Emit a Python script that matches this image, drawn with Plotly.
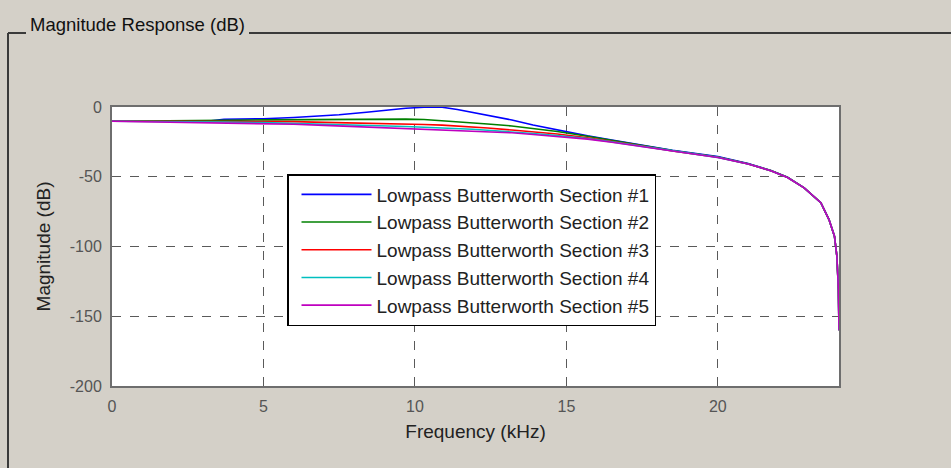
import plotly.graph_objects as go

# ---- data ----
freq_khz = [0, 3.2, 3.7, 5, 6, 7, 7.5, 8.4, 9.1, 9.7, 10.3, 10.9, 11.4, 11.9, 12.4,
            13.2, 13.9, 14.7, 15.7, 16.5, 17.3, 18.5, 20, 21, 21.75, 22.3, 22.85,
            23.4, 23.67, 23.85, 23.93, 23.98, 24]

section1_db = [-10.2, -10.0, -8.8, -8.4, -7.5, -6.2, -5.6, -3.8, -2.1, -0.9, -0.2, -0.2,
               -1.8, -3.8, -5.7, -9.3, -12.9, -16.4, -20.7, -23.6, -26.5, -31.0, -35.6,
               -40.6, -45.5, -50.3, -58.0, -68.6, -80.7, -92.6, -107, -130, -160]
section2_db = [-10.2, -10.1, -9.6, -9.2, -9.0, -8.8, -8.7, -8.6, -8.6, -8.7, -9.0, -9.8,
               -10.6, -11.4, -12.2, -13.6, -15.3, -17.6, -21.0, -23.8, -26.7, -31.2, -35.8,
               -40.7, -45.6, -50.4, -58.0, -68.6, -80.7, -92.6, -107, -130, -160]
section3_db = [-10.2, -10.2, -10.2, -10.3, -10.5, -11.0, -11.2, -11.5, -11.8, -12.1, -12.5,
               -13.0, -13.5, -14.0, -15.0, -16.5, -17.7, -19.4, -22.0, -24.5, -27.3, -31.5,
               -36.0, -40.8, -45.7, -50.5, -58.0, -68.6, -80.7, -92.6, -107, -130, -160]
section4_db = [-10.2, -10.4, -10.7, -11.2, -11.7, -12.1, -12.4, -13.1, -13.6, -14.0, -14.4,
               -14.9, -15.4, -16.0, -16.7, -17.8, -19.0, -20.4, -22.6, -25.0, -27.6, -31.6,
               -36.1, -40.8, -45.7, -50.5, -58.0, -68.6, -80.7, -92.6, -107, -130, -160]
section5_db = [-10.2, -11.2, -11.4, -12.0, -12.4, -13.2, -13.6, -14.3, -14.8, -15.3, -15.8,
               -16.3, -16.7, -17.1, -17.6, -18.5, -19.7, -21.0, -23.0, -25.3, -27.9, -31.8,
               -36.2, -40.8, -45.7, -50.5, -58.0, -68.6, -80.7, -92.6, -107, -130, -160]

series_names = ["Lowpass Butterworth Section #1", "Lowpass Butterworth Section #2",
                "Lowpass Butterworth Section #3", "Lowpass Butterworth Section #4",
                "Lowpass Butterworth Section #5"]
series_colors = ["#0000ff", "#008000", "#ff0000", "#00bfbf", "#bf00bf"]

x_tick_vals = [0, 5, 10, 15, 20]
x_tick_text = ["0", "5", "10", "15", "20"]
y_tick_vals = [0, -50, -100, -150, -200]
y_tick_text = ["0", "-50", "-100", "-150", "-200"]

# ---- figure ----
W, H = 951, 468
L, R, T, B = 112, 839, 107, 386   # plot-area pixel box
BG = "#d4d0c8"
FONT = "Liberation Sans, Arial, Helvetica, sans-serif"

fig = go.Figure()
for name, color, ys in zip(series_names, series_colors,
                           [section1_db, section2_db, section3_db, section4_db, section5_db]):
    fig.add_trace(go.Scatter(x=freq_khz, y=ys, mode="lines", name=name,
                             line=dict(color=color, width=1.6)))

def px_x(p):
    return (p - L) / (R - L)

def px_y(p):
    return (B - p) / (B - T)

axis_common = dict(showline=True, mirror=True, linecolor="#6e6e6e", linewidth=2,
                   showgrid=True, gridcolor="#5a5a5a", gridwidth=1, griddash="dash",
                   zeroline=False, ticks="outside", ticklen=5, tickcolor="rgba(0,0,0,0)",
                   tickfont=dict(family=FONT, size=16, color="#555555"))

fig.update_layout(
    width=W, height=H, autosize=False,
    margin=dict(l=L, r=W - R, t=T, b=H - B, pad=0),
    paper_bgcolor=BG, plot_bgcolor="white",
    font=dict(family=FONT, color="#222222"),
    xaxis=dict(range=[0, 24], tickvals=x_tick_vals, ticktext=x_tick_text,
               title=dict(text="Frequency (kHz)", font=dict(family=FONT, size=19, color="#222222"),
                          standoff=10),
               **axis_common),
    yaxis=dict(range=[-200, 0], tickvals=y_tick_vals, ticktext=y_tick_text,
               title=dict(text="Magnitude (dB)", font=dict(family=FONT, size=19, color="#222222"),
                          standoff=14),
               **axis_common),
    legend=dict(x=px_x(287), y=px_y(174), xanchor="left", yanchor="top",
                bgcolor="white", bordercolor="black", borderwidth=1.5,
                font=dict(family=FONT, size=19, color="#222222"),
                itemwidth=70, tracegroupgap=0, indentation=8),
    showlegend=True,
)

# group-box frame and title
line_style = dict(color="#3a3a3a", width=2)
fig.add_shape(type="line", xref="paper", yref="paper",
              x0=px_x(8), x1=px_x(26), y0=px_y(33), y1=px_y(33), line=line_style)
fig.add_shape(type="line", xref="paper", yref="paper",
              x0=px_x(249), x1=px_x(951), y0=px_y(33), y1=px_y(33), line=line_style)
fig.add_shape(type="line", xref="paper", yref="paper",
              x0=px_x(8), x1=px_x(8), y0=px_y(33), y1=px_y(468), line=line_style)
fig.add_annotation(text="Magnitude Response (dB)", xref="paper", yref="paper",
                   x=px_x(28), y=px_y(25), xanchor="left", yanchor="middle",
                   showarrow=False, font=dict(family=FONT, size=18.5, color="#111111"))

fig.write_html("out.html", config={"displayModeBar": False},
               post_script="document.body.style.margin='0';document.body.style.overflow='hidden';")
